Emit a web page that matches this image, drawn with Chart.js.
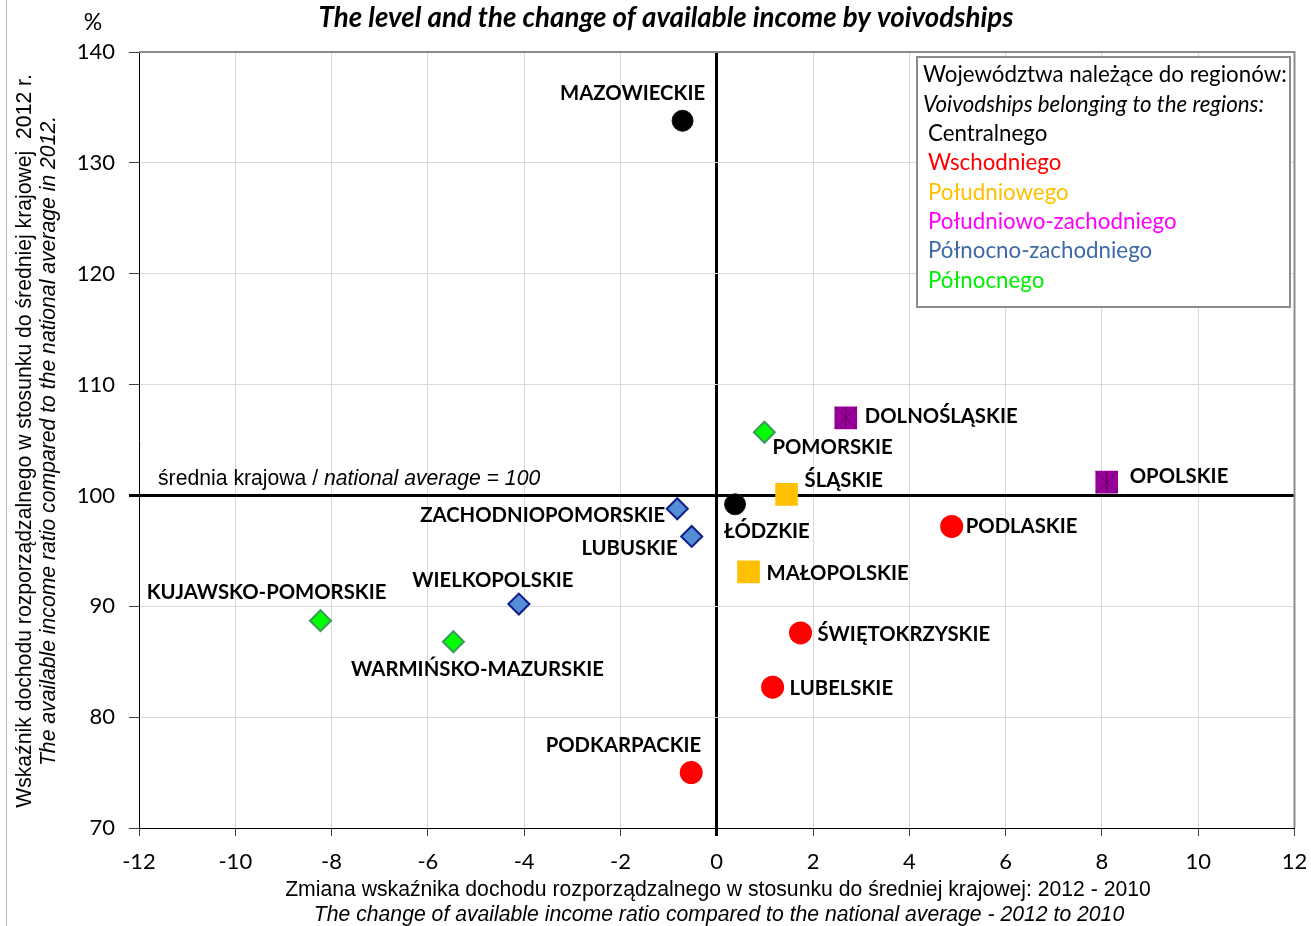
<!DOCTYPE html>
<html>
<head>
<meta charset="utf-8">
<script src="https://cdn.jsdelivr.net/npm/chart.js@4.4.0/dist/chart.umd.min.js"></script>
<style>
  html, body { margin: 0; padding: 0; background: #fff; }
</style>
</head>
<body>
<canvas id="incomeChart" width="1311" height="926"></canvas>
<script>
// Voivodships: change of ratio 2012-2010 (x) and level in 2012 (y, national average = 100)
const voivodships = [
  'MAZOWIECKIE', 'ŁÓDZKIE',
  'PODLASKIE', 'ŚWIĘTOKRZYSKIE', 'LUBELSKIE', 'PODKARPACKIE',
  'ŚLĄSKIE', 'MAŁOPOLSKIE',
  'DOLNOŚLĄSKIE', 'OPOLSKIE',
  'ZACHODNIOPOMORSKIE', 'LUBUSKIE', 'WIELKOPOLSKIE',
  'POMORSKIE', 'KUJAWSKO-POMORSKIE', 'WARMIŃSKO-MAZURSKIE'
];
const regionIndex = [0, 0, 1, 1, 1, 1, 2, 2, 3, 3, 4, 4, 4, 5, 5, 5];
const incomeChange = [-0.71, 0.38, 4.88, 1.74, 1.16, -0.53, 1.45, 0.66, 2.68, 8.10, -0.82, -0.52, -4.11, 0.99, -8.23, -5.47];
const incomeLevel = [133.8, 99.2, 97.2, 87.6, 82.7, 75.0, 100.1, 93.1, 107.0, 101.2, 98.8, 96.3, 90.2, 105.7, 88.7, 86.8];

const regionNames = ['Centralnego', 'Wschodniego', 'Południowego', 'Południowo-zachodniego', 'Północno-zachodniego', 'Północnego'];
const xTickValues = [-12, -10, -8, -6, -4, -2, 0, 2, 4, 6, 8, 10, 12];
const yTickValues = [70, 80, 90, 100, 110, 120, 130, 140];

// marker styles per region
const regionFill = ['#000000', '#ff0000', '#ffc000', '#990099', '#558ed5', '#00ff00'];
const regionBorder = ['#1a1a1a', '#ff0000', '#ffc000', '#990099', '#0c1f8a', '#3b9a5c'];
const regionText = ['#000000', '#ff0000', '#ffc000', '#ff00ff', '#3f6aa6', '#00ee00'];
const regionMarker = ['circle', 'circle', 'rect', 'rect', 'rectRot', 'rectRot'];
const regionRadius = [10.5, 11.5, 16, 16, 10.5, 10.5];
const regionBorderWidth = [1, 0, 0, 0, 2, 2];

const LABEL_FONT = 'bold 20.3px Lato';
const ARIAL = '21.2px "Liberation Sans"';
const ARIAL_IT = 'italic 21.2px "Liberation Sans"';

// label placement relative to the marker: [align, dx, dy]
const labelPlace = {
  'MAZOWIECKIE': ['center', -50, -28],
  'ŁÓDZKIE': ['left', -11, 27],
  'PODLASKIE': ['left', 14, 0],
  'ŚWIĘTOKRZYSKIE': ['left', 17, 1],
  'LUBELSKIE': ['left', 17, 1],
  'PODKARPACKIE': ['right', 10, -28],
  'ŚLĄSKIE': ['left', 18, -14],
  'MAŁOPOLSKIE': ['left', 18, 1],
  'DOLNOŚLĄSKIE': ['left', 19, -2],
  'OPOLSKIE': ['left', 23, -6],
  'ZACHODNIOPOMORSKIE': ['right', -12, 6],
  'LUBUSKIE': ['right', -14, 12],
  'WIELKOPOLSKIE': ['center', -26, -24],
  'KUJAWSKO-POMORSKIE': ['center', -54, -29],
  'WARMIŃSKO-MAZURSKIE': ['center', 24, 27],
  'POMORSKIE': ['left', 8, 15]
};

function pointsOf(region) {
  const pts = [];
  voivodships.forEach((name, i) => {
    if (regionIndex[i] === region) pts.push({ x: incomeChange[i], y: incomeLevel[i], name: name });
  });
  return pts;
}

const datasets = regionNames.map((r, k) => ({
  label: r,
  data: pointsOf(k),
  order: 1,
  pointStyle: regionMarker[k],
  pointRadius: regionRadius[k],
  backgroundColor: regionFill[k],
  borderColor: regionBorder[k],
  borderWidth: regionBorderWidth[k],
  showLine: false
}));

// asterisk on the south-west squares (drawn on top)
datasets.push({
  label: 'sw-x', data: pointsOf(3), order: 0, pointStyle: 'crossRot', pointRadius: 15.5,
  borderColor: '#5e005e', borderWidth: 1, backgroundColor: 'transparent'
});
datasets.push({
  label: 'sw-v', data: pointsOf(3), order: 0, pointStyle: 'line', rotation: 90, pointRotation: 90, pointRadius: 11,
  borderColor: '#5e005e', borderWidth: 1, backgroundColor: 'transparent'
});

const textPlugin = {
  id: 'texts',
  afterDraw(chart) {
    const ctx = chart.ctx;
    const xs = chart.scales.x, ys = chart.scales.y;
    const area = chart.chartArea;
    ctx.save();

    // outer frame line at the left
    ctx.strokeStyle = '#bfbfbf';
    ctx.lineWidth = 1;
    ctx.beginPath(); ctx.moveTo(6.5, 0); ctx.lineTo(6.5, 926); ctx.stroke();

    // plot area border top / right
    ctx.strokeStyle = '#8c8c8c';
    ctx.lineWidth = 2;
    ctx.beginPath();
    ctx.moveTo(area.left, area.top);
    ctx.lineTo(area.right, area.top);
    ctx.lineTo(area.right, area.bottom);
    ctx.stroke();

    // title
    ctx.fillStyle = '#000';
    ctx.textAlign = 'center';
    ctx.textBaseline = 'middle';
    ctx.font = 'italic bold 27.7px Lato';
    ctx.fillText('The level and the change of available income by voivodships', 666, 18);
    ctx.font = '23px Lato';
    ctx.fillText('%', 93, 23);

    // axis titles
    ctx.font = ARIAL;
    ctx.fillText('Zmiana wskaźnika dochodu rozporządzalnego w stosunku do średniej krajowej: 2012 - 2010', 718, 890);
    ctx.font = ARIAL_IT;
    ctx.fillText('The change of available income ratio compared to the national average - 2012 to 2010', 719, 915);

    ctx.save();
    ctx.translate(25, 441);
    ctx.rotate(-Math.PI / 2);
    ctx.font = ARIAL;
    ctx.fillText('Wskaźnik dochodu rozporządzalnego w stosunku do średniej krajowej  2012 r.', 0, 0);
    ctx.font = ARIAL_IT;
    ctx.fillText('The available income ratio compared to the national average in 2012.', 0, 24);
    ctx.restore();

    // national average note
    const y100 = ys.getPixelForValue(100);
    ctx.textAlign = 'left';
    ctx.textBaseline = 'alphabetic';
    ctx.font = ARIAL;
    const part1 = 'średnia krajowa / ';
    ctx.fillText(part1, 158, y100 - 10);
    const w1 = ctx.measureText(part1).width;
    ctx.font = ARIAL_IT;
    ctx.fillText('national average = 100', 158 + w1, y100 - 10);

    // point labels
    ctx.font = LABEL_FONT;
    voivodships.forEach((name, i) => {
      const p = labelPlace[name];
      const px = xs.getPixelForValue(incomeChange[i]);
      const py = ys.getPixelForValue(incomeLevel[i]);
      ctx.textAlign = p[0];
      ctx.fillStyle = '#000';
      ctx.fillText(name, px + p[1], py + p[2] + 7);
    });

    // legend box
    ctx.fillStyle = '#fff';
    ctx.fillRect(917, 57, 373, 250);
    ctx.strokeStyle = '#8c8c8c';
    ctx.lineWidth = 2;
    ctx.strokeRect(917, 57, 373, 250);
    ctx.textAlign = 'left';
    ctx.textBaseline = 'middle';
    ctx.fillStyle = '#000';
    ctx.font = '22.3px Lato';
    ctx.fillText('Województwa należące do regionów:', 923, 75);
    ctx.font = 'italic 22.3px Lato';
    ctx.fillText('Voivodships belonging to the regions:', 923, 105);
    ctx.font = '22.3px Lato';
    regionNames.forEach((r, k) => {
      ctx.fillStyle = regionText[k];
      ctx.fillText(r, 928, 134 + k * 29.3);
    });

    ctx.restore();
  }
};

const ctx = document.getElementById('incomeChart').getContext('2d');

const incomeChart = new Chart(ctx, {
  type: 'scatter',
  data: { datasets: datasets },
  options: {
    responsive: false,
    animation: false,
    devicePixelRatio: 1,
    layout: { padding: { left: 0, top: 52, right: 16, bottom: 0 } },
    plugins: {
      legend: { display: false },
      tooltip: { enabled: false }
    },
    scales: {
      x: {
        type: 'linear',
        min: -12,
        max: 12,
        afterFit: s => { s.height = 98; s.paddingLeft = 0; s.paddingRight = 0; },
        afterBuildTicks: s => { s.ticks = xTickValues.map(v => ({ value: v })); },
        ticks: { color: '#000', font: { family: 'Lato', size: 22 }, padding: 13 },
        grid: {
          color: c => (c.tick && c.tick.value === 0) ? '#000' : '#d9d9d9',
          lineWidth: c => (c.tick && c.tick.value === 0) ? 3 : 1,
          tickColor: c => (c.tick && c.tick.value === 0) ? '#000' : '#404040',
          tickLength: 8
        },
        border: { display: true, color: '#000', width: 1 }
      },
      y: {
        type: 'linear',
        min: 70,
        max: 140,
        afterFit: s => { s.width = 139; s.paddingTop = 0; s.paddingBottom = 0; },
        afterBuildTicks: s => { s.ticks = yTickValues.map(v => ({ value: v })); },
        ticks: { color: '#000', font: { family: 'Lato', size: 22 }, padding: 14 },
        grid: {
          color: c => (c.tick && c.tick.value === 100) ? '#000' : '#d9d9d9',
          lineWidth: c => (c.tick && c.tick.value === 100) ? 3 : 1,
          tickColor: c => (c.tick && c.tick.value === 100) ? '#000' : '#404040',
          tickLength: 10
        },
        border: { display: true, color: '#000', width: 1 }
      }
    }
  },
  plugins: [textPlugin]
});
</script>
</body>
</html>
